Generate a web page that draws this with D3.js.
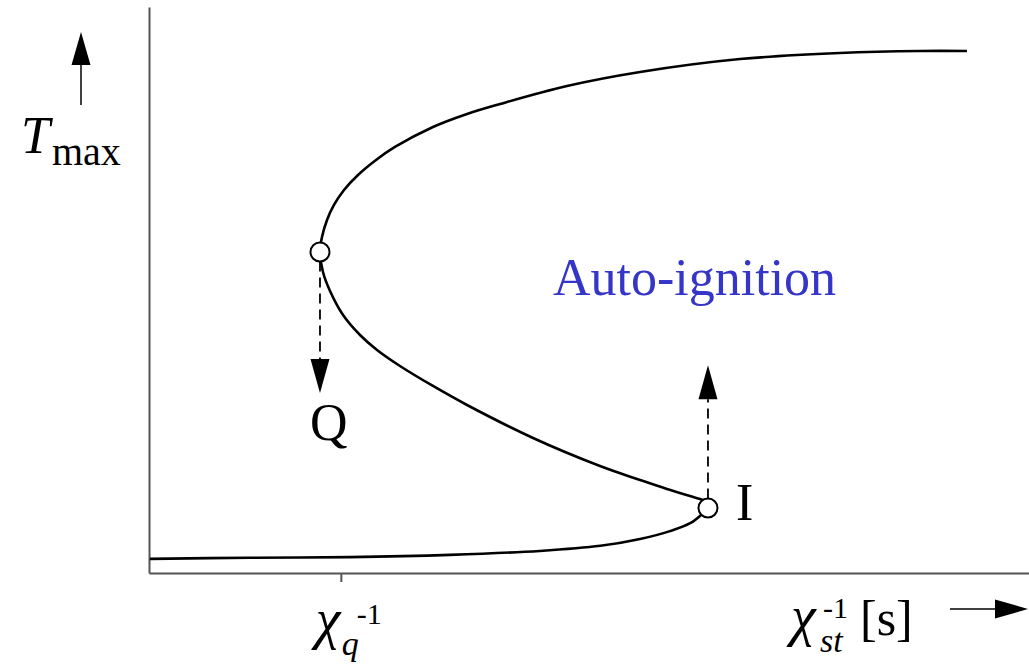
<!DOCTYPE html>
<html>
<head>
<meta charset="utf-8">
<script src="https://cdn.jsdelivr.net/npm/d3@7"></script>
<style>
  html, body { margin: 0; padding: 0; background: #fff; }
  svg { display: block; }
  text { font-family: "Liberation Serif", "Times New Roman", serif; }
</style>
</head>
<body>
<svg id="chart" width="1029" height="667"></svg>
<script>
// S-curve of maximum flame temperature versus inverse scalar dissipation rate
// (arbitrary units). Upper (burning) branch from its far end back towards Q.
const upperBranch = [
  [9.295, 9.223], [8.761, 9.223], [7.852, 9.187], [6.716, 9.081], [5.580, 8.852],
  [4.750, 8.604], [3.989, 8.286], [3.614, 8.110], [3.227, 7.880], [2.795, 7.527],
  [2.580, 7.297], [2.375, 7.032], [2.216, 6.767], [2.102, 6.502], [2.023, 6.237],
  [1.966, 5.936]
];
// Quenching point Q and ignition point I
const quenchPoint = [1.943, 5.671];
const ignitionPoint = [6.352, 1.148];
// Middle (unstable) branch from Q down to I
const middleBranch = [
  [1.977, 5.318], [2.057, 4.982], [2.205, 4.558], [2.398, 4.205], [2.591, 3.940],
  [2.852, 3.657], [3.227, 3.304], [3.614, 2.968], [4.364, 2.385], [5.125, 1.890],
  [5.580, 1.643], [5.886, 1.484], [6.261, 1.307], [6.329, 1.272]
];
// Lower (non-burning) branch from I back towards zero
const lowerBranch = [
  [6.284, 1.04], [6.15, 0.88], [5.92, 0.74], [5.58, 0.60], [5.13, 0.48],
  [4.44, 0.39], [3.42, 0.32], [2.28, 0.28], [1.15, 0.27], [0.01, 0.25]
];
// Where the jumps from Q and I end
const quenchDropTo = 3.18;
const ignitionJumpTo = 3.67;
// Tick on the horizontal axis
const tickValues = [2.18];

const svg = d3.select("#chart");
const x = d3.scaleLinear().domain([0, 10]).range([149, 1029]);
const y = d3.scaleLinear().domain([0, 10]).range([573, 7]);

// Axes
svg.append("g")
  .attr("transform", `translate(0,${y(0)})`)
  .call(d3.axisBottom(x).tickValues(tickValues).tickSize(9).tickSizeOuter(0).tickFormat(""));
svg.append("g")
  .attr("transform", `translate(${x(0)},0)`)
  .call(d3.axisLeft(y).tickValues([]).tickSizeOuter(0));
svg.selectAll(".domain, .tick line").attr("stroke", "#555").attr("stroke-width", 2);

// S-curve: smooth through Q; the middle and lower branches meet under the I marker
const line = d3.line().x(d => x(d[0])).y(d => y(d[1])).curve(d3.curveCatmullRom.alpha(0.5));
const pieces = [
  [...upperBranch, quenchPoint, ...middleBranch],
  [ignitionPoint, ...lowerBranch]
];
svg.selectAll("path.branch")
  .data(pieces)
  .join("path")
  .attr("class", "branch")
  .attr("d", line)
  .attr("fill", "none")
  .attr("stroke", "#000")
  .attr("stroke-width", 2.6)
  .attr("stroke-linejoin", "round");

// Filled triangular arrow head, tip at (tx,ty), pointing along dir
function arrowHead(tx, ty, dir, len = 34, half = 9.5) {
  const [dx, dy] = dir;
  const bx = tx - dx * len, by = ty - dy * len;
  const px = -dy * half, py = dx * half;
  svg.append("path")
    .attr("d", `M${tx},${ty}L${bx + px},${by + py}L${bx - px},${by - py}Z`)
    .attr("fill", "#000");
}

// Dashed jump arrows
const r = 9.5;
svg.append("line")
  .attr("x1", x(quenchPoint[0])).attr("x2", x(quenchPoint[0]))
  .attr("y1", y(quenchPoint[1]) + r).attr("y2", y(quenchDropTo) - 34)
  .attr("stroke", "#000").attr("stroke-width", 1.8).attr("stroke-dasharray", "10,6");
arrowHead(x(quenchPoint[0]), y(quenchDropTo), [0, 1]);

svg.append("line")
  .attr("x1", x(ignitionPoint[0])).attr("x2", x(ignitionPoint[0]))
  .attr("y1", y(ignitionPoint[1]) - r).attr("y2", y(ignitionJumpTo) + 34)
  .attr("stroke", "#000").attr("stroke-width", 1.8).attr("stroke-dasharray", "10,6");
arrowHead(x(ignitionPoint[0]), y(ignitionJumpTo), [0, -1]);

// Turning-point markers
svg.selectAll("circle.turn")
  .data([quenchPoint, ignitionPoint])
  .join("circle")
  .attr("class", "turn")
  .attr("cx", d => x(d[0])).attr("cy", d => y(d[1])).attr("r", r)
  .attr("fill", "#fff").attr("stroke", "#000").attr("stroke-width", 2);

// Point labels
svg.append("text").attr("x", x(quenchPoint[0]) - 10).attr("y", 440)
  .attr("font-size", 52).text("Q");
svg.append("text").attr("x", x(ignitionPoint[0]) + 28).attr("y", 520)
  .attr("font-size", 52).text("I");
svg.append("text").attr("x", 553).attr("y", 295)
  .attr("font-size", 52).attr("fill", "#3535c8").text("Auto-ignition");

// Y axis label with arrow
svg.append("line").attr("x1", 81).attr("x2", 81).attr("y1", 105).attr("y2", 60)
  .attr("stroke", "#000").attr("stroke-width", 1.5);
arrowHead(81, 32, [0, -1], 33, 9.5);
const yLabel = svg.append("text");
yLabel.append("tspan").attr("x", 21).attr("y", 153).attr("font-size", 52)
  .attr("font-style", "italic").text("T");
yLabel.append("tspan").attr("x", 52).attr("y", 165).attr("font-size", 40).text("max");

// Tick label χ_q^-1
const tx = x(tickValues[0]);
const tickLabel = svg.append("text");
tickLabel.append("tspan").attr("x", tx - 25).attr("y", 638).attr("font-size", 56)
  .attr("font-style", "italic").text("χ");
tickLabel.append("tspan").attr("x", tx + 1).attr("y", 655).attr("font-size", 34)
  .attr("font-style", "italic").text("q");
tickLabel.append("tspan").attr("x", tx + 16).attr("y", 624).attr("font-size", 30).text("-1");

// Axis title χ_st^-1 [s] with arrow
const xTitle = svg.append("text");
xTitle.append("tspan").attr("x", 791).attr("y", 635).attr("font-size", 56)
  .attr("font-style", "italic").text("χ");
xTitle.append("tspan").attr("x", 820).attr("y", 652).attr("font-size", 34)
  .attr("font-style", "italic").text("st");
xTitle.append("tspan").attr("x", 823).attr("y", 618).attr("font-size", 30).text("-1");
xTitle.append("tspan").attr("x", 860).attr("y", 635).attr("font-size", 50).text("[s]");
svg.append("line").attr("x1", 950).attr("x2", 1000).attr("y1", 609).attr("y2", 609)
  .attr("stroke", "#000").attr("stroke-width", 1.5);
arrowHead(1028, 609, [1, 0], 33, 9.5);
</script>
</body>
</html>
